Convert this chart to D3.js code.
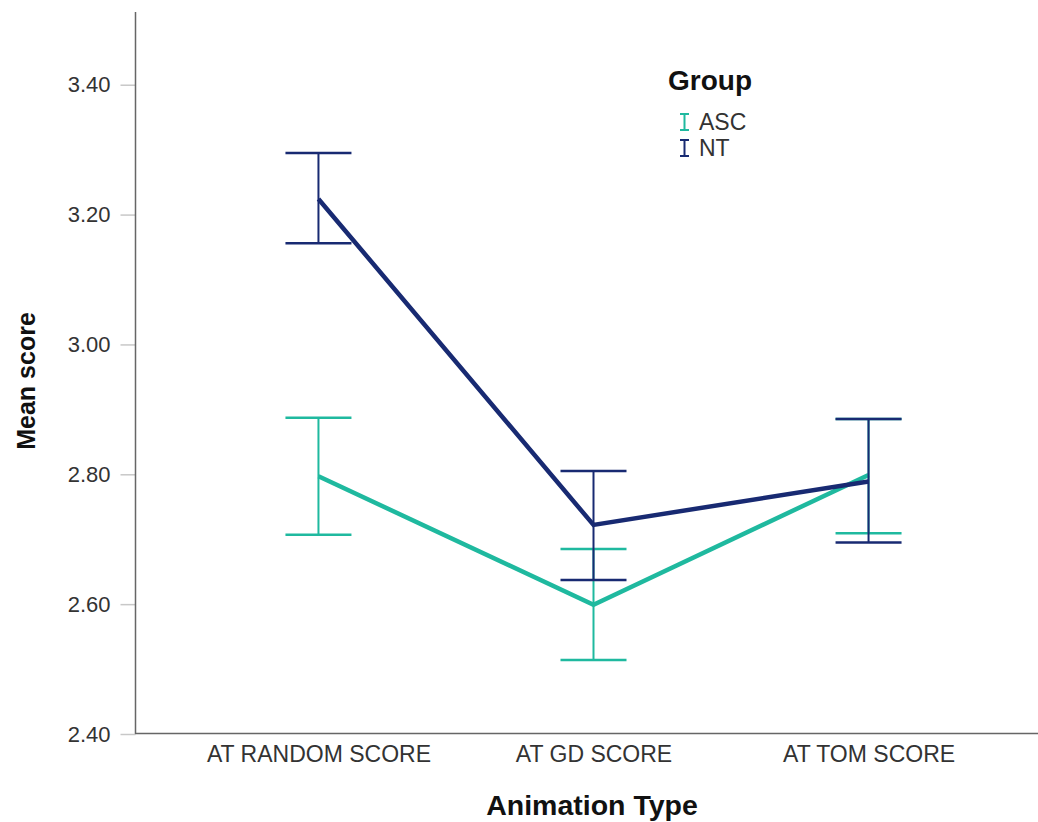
<!DOCTYPE html>
<html>
<head>
<meta charset="utf-8">
<script src="https://cdn.jsdelivr.net/npm/d3@7"></script>
<style>
  body { margin: 0; background: #fff; }
  text { font-family: Arial, "Liberation Sans", sans-serif; }
</style>
</head>
<body>
<div id="chart"></div>
<script>
// categories and series (mean with CI bounds)
const categories = ["AT RANDOM SCORE", "AT GD SCORE", "AT TOM SCORE"];
const groups = ["ASC", "NT"];
const ascMean = [2.797, 2.599, 2.799];
const ascLow = [2.707, 2.514, 2.709];
const ascHigh = [2.887, 2.685, 2.885];
const ntMean = [3.224, 2.722, 2.789];
const ntLow = [3.156, 2.637, 2.695];
const ntHigh = [3.295, 2.805, 2.885];
const yTicks = [2.40, 2.60, 2.80, 3.00, 3.20, 3.40];

const colors = { ASC: "#1fb99f", NT: "#182a72" };

const W = 1038, H = 822;
const svg = d3.select("#chart").append("svg")
    .attr("width", W).attr("height", H);

const x = d3.scalePoint()
    .domain(categories)
    .range([135, 1052])
    .padding(0.667);

const y = d3.scaleLinear()
    .domain([2.40, 3.512])
    .range([734, 12]);

// y axis
const yAxis = svg.append("g")
    .attr("transform", "translate(135.5,0)")
    .call(d3.axisLeft(y).tickValues(yTicks).tickFormat(d3.format(".2f")).tickSize(15).tickPadding(10));
yAxis.select(".domain").remove();
yAxis.selectAll(".tick line").attr("stroke", "#c8c8c8").attr("stroke-width", 1.5);
yAxis.selectAll(".tick text").attr("font-size", 22).attr("fill", "#333")
    .attr("font-family", "Arial, 'Liberation Sans', sans-serif");

svg.append("line")
    .attr("x1", 135.5).attr("x2", 135.5)
    .attr("y1", 12).attr("y2", 734)
    .attr("stroke", "#666").attr("stroke-width", 1.5);

// x axis
const xAxis = svg.append("g")
    .attr("transform", "translate(0,733.5)")
    .call(d3.axisBottom(x).tickSize(0).tickPadding(12));
xAxis.select(".domain").remove();
xAxis.selectAll(".tick text").attr("font-size", 23).attr("fill", "#333")
    .attr("font-family", "Arial, 'Liberation Sans', sans-serif");

svg.append("line")
    .attr("x1", 135).attr("x2", W)
    .attr("y1", 733.5).attr("y2", 733.5)
    .attr("stroke", "#666").attr("stroke-width", 1.5);

// axis titles
svg.append("text")
    .attr("transform", "translate(35,381) rotate(-90)")
    .attr("text-anchor", "middle")
    .attr("font-size", 25).attr("font-weight", "bold").attr("fill", "#111")
    .text("Mean score");

svg.append("text")
    .attr("x", 592).attr("y", 815)
    .attr("text-anchor", "middle")
    .attr("font-size", 28.5).attr("font-weight", "bold").attr("fill", "#111")
    .text("Animation Type");

const series = [
    { name: "ASC", mean: ascMean, low: ascLow, high: ascHigh },
    { name: "NT", mean: ntMean, low: ntLow, high: ntHigh }
];

const capHalf = 33;

series.forEach(function(s) {
    const c = colors[s.name];
    const g = svg.append("g");
    const pts = categories.map(function(cat, i) {
        return { cat: cat, mean: s.mean[i], low: s.low[i], high: s.high[i] };
    });

    // error bars
    g.selectAll("line.stem").data(pts).enter().append("line")
        .attr("x1", d => x(d.cat)).attr("x2", d => x(d.cat))
        .attr("y1", d => y(d.low)).attr("y2", d => y(d.high))
        .attr("stroke", c).attr("stroke-width", 2);
    g.selectAll("line.capHigh").data(pts).enter().append("line")
        .attr("x1", d => x(d.cat) - capHalf).attr("x2", d => x(d.cat) + capHalf)
        .attr("y1", d => y(d.high)).attr("y2", d => y(d.high))
        .attr("stroke", c).attr("stroke-width", 2.5);
    g.selectAll("line.capLow").data(pts).enter().append("line")
        .attr("x1", d => x(d.cat) - capHalf).attr("x2", d => x(d.cat) + capHalf)
        .attr("y1", d => y(d.low)).attr("y2", d => y(d.low))
        .attr("stroke", c).attr("stroke-width", 2.5);

    // mean line
    g.append("path")
        .datum(pts)
        .attr("fill", "none")
        .attr("stroke", c)
        .attr("stroke-width", 4.5)
        .attr("d", d3.line().x(d => x(d.cat)).y(d => y(d.mean)));
});

// legend
const leg = svg.append("g");
leg.append("text")
    .attr("x", 668).attr("y", 90)
    .attr("font-size", 28).attr("font-weight", "bold").attr("fill", "#111")
    .text("Group");

groups.forEach(function(gname, i) {
    const cy = 122 + i * 26;
    const c = colors[gname];
    const lg = leg.append("g");
    lg.append("line").attr("x1", 684.5).attr("x2", 684.5).attr("y1", cy - 8).attr("y2", cy + 8)
        .attr("stroke", c).attr("stroke-width", 2);
    lg.append("line").attr("x1", 680).attr("x2", 689).attr("y1", cy - 8).attr("y2", cy - 8)
        .attr("stroke", c).attr("stroke-width", 2);
    lg.append("line").attr("x1", 680).attr("x2", 689).attr("y1", cy + 8).attr("y2", cy + 8)
        .attr("stroke", c).attr("stroke-width", 2);
    lg.append("text")
        .attr("x", 699).attr("y", cy + 8)
        .attr("font-size", 23).attr("fill", "#333")
        .text(gname);
});
</script>
</body>
</html>
